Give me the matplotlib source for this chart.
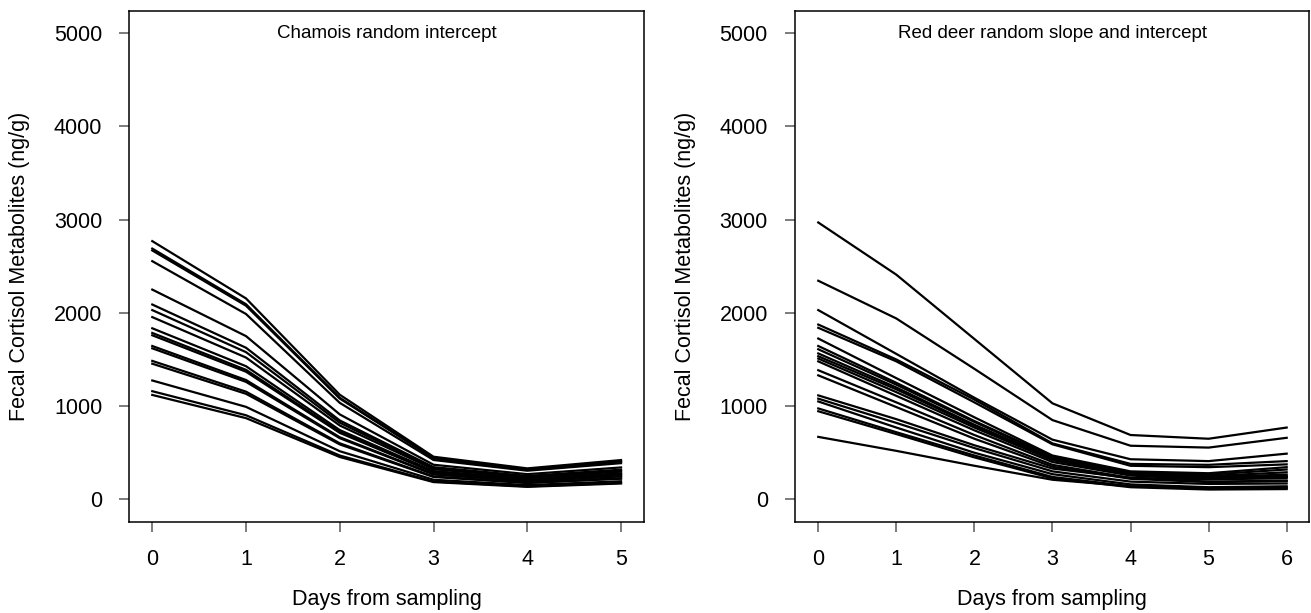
import matplotlib
matplotlib.use("Agg")
import matplotlib.pyplot as plt

# ---- data ----
chamois_days = [0, 1, 2, 3, 4, 5]
chamois_fcm = [
    [2770, 2155, 1122, 457, 332, 421],
    [2690, 2093, 1089, 444, 323, 409],
    [2670, 2077, 1081, 441, 320, 406],
    [2555, 1988, 1035, 422, 307, 388],
    [2250, 1751, 911, 371, 270, 342],
    [2090, 1626, 846, 345, 251, 318],
    [2030, 1579, 822, 335, 244, 309],
    [1955, 1521, 792, 323, 235, 297],
    [1835, 1428, 743, 303, 220, 279],
    [1785, 1389, 723, 295, 214, 271],
    [1760, 1369, 713, 290, 211, 268],
    [1645, 1280, 666, 271, 197, 250],
    [1620, 1260, 656, 267, 194, 246],
    [1485, 1155, 601, 245, 178, 226],
    [1455, 1132, 589, 240, 175, 221],
    [1275, 992, 516, 210, 153, 194],
    [1160, 902, 470, 191, 139, 176],
    [1120, 871, 454, 185, 134, 170],
]

deer_days = [0, 1, 2, 3, 4, 5, 6]
deer_fcm = [
    [2970, 2410, 1720, 1030, 690, 650, 770],
    [2345, 1940, 1400, 850, 575, 555, 660],
    [2030, 1560, 1090, 640, 430, 410, 490],
    [1875, 1500, 1070, 600, 380, 370, 410],
    [1840, 1480, 1040, 590, 360, 345, 375],
    [1725, 1300, 880, 470, 300, 280, 345],
    [1645, 1250, 840, 460, 290, 265, 320],
    [1610, 1230, 830, 450, 285, 250, 290],
    [1565, 1200, 800, 440, 280, 240, 265],
    [1535, 1180, 790, 430, 270, 235, 250],
    [1510, 1150, 770, 420, 265, 230, 240],
    [1480, 1110, 740, 400, 255, 215, 225],
    [1385, 1040, 690, 370, 230, 190, 200],
    [1330, 990, 650, 350, 220, 185, 195],
    [1115, 860, 580, 330, 230, 215, 240],
    [1080, 820, 550, 300, 190, 165, 170],
    [1050, 770, 500, 270, 160, 130, 140],
    [975, 720, 470, 240, 140, 115, 120],
    [945, 700, 450, 225, 130, 105, 110],
    [670, 520, 360, 210, 140, 120, 130],
]

y_ticks = [0, 1000, 2000, 3000, 4000, 5000]
titles = ["Chamois random intercept", "Red deer random slope and intercept"]
xlabel = "Days from sampling"
ylabel = "Fecal Cortisol Metabolites (ng/g)"

# ---- figure ----
plt.rcParams['font.family'] = ['Liberation Sans', 'DejaVu Sans']
W, H = 1311, 613
fig = plt.figure(figsize=(W / 100, H / 100), dpi=100)

def px_axes(x0, y0, x1, y1):
    return fig.add_axes([x0 / W, 1 - y1 / H, (x1 - x0) / W, (y1 - y0) / H])

ax1 = px_axes(129.3, 10.7, 644, 521.7)
ax2 = px_axes(795, 10.7, 1309.3, 521.7)

panels = [
    (ax1, chamois_days, chamois_fcm, (-0.245, 5.245)),
    (ax2, deer_days, deer_fcm, (-0.298, 6.29)),
]

for i, (ax, days, series, xl) in enumerate(panels):
    for row in series:
        ax.plot(days, row, color='black', lw=1.6, solid_joinstyle='round')
    ax.set_xlim(*xl)
    ax.set_ylim(-240, 5242)
    ax.set_xticks(days)
    ax.set_yticks(y_ticks)
    ax.tick_params(axis='both', direction='out', length=7.5, width=1.2,
                   color='#666666', labelsize=15.5, pad=12)
    for s in ax.spines.values():
        s.set_linewidth(1.1)
        s.set_color('black')
    ax.set_xlabel(xlabel, fontsize=15.5, labelpad=14)
    ax.set_ylabel(ylabel, fontsize=15.5, labelpad=17)
    ax.text(0.5, 0.955, titles[i], transform=ax.transAxes, ha='center',
            va='center', fontsize=13.5)

fig.savefig("out.png", dpi=100)
